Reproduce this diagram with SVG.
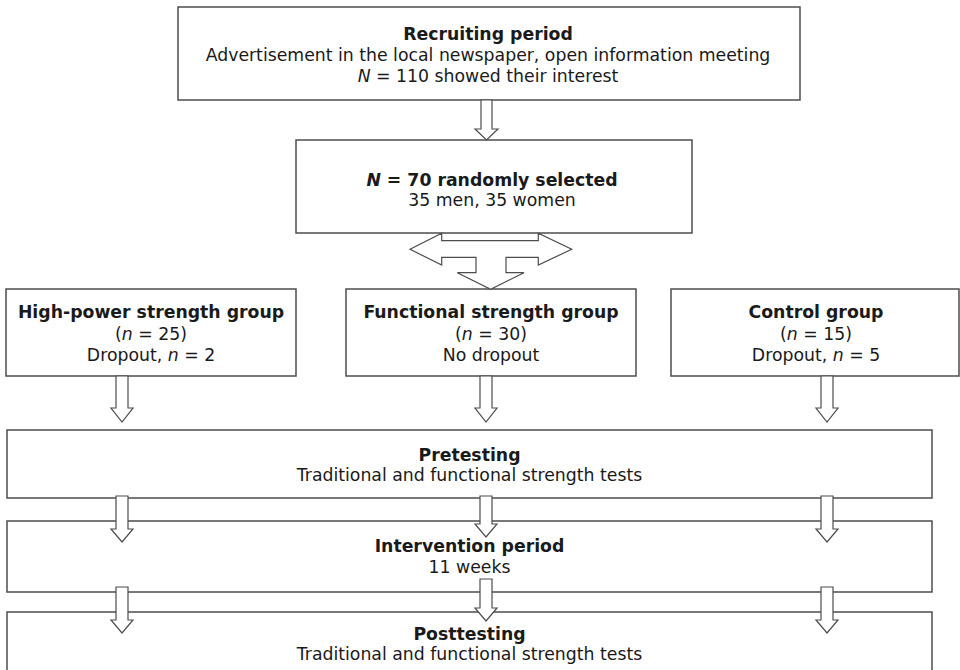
<svg xmlns="http://www.w3.org/2000/svg" width="960" height="670" viewBox="0 0 960 670">
<style>
.box{fill:#fff;stroke:#4d4d4d;stroke-width:1.5}
.arr{fill:#fff;stroke:#4d4d4d;stroke-width:1.2;stroke-linejoin:miter}
text{font-family:"DejaVu Sans",Verdana,sans-serif;font-size:17.3px;fill:#1a1a1a;text-anchor:middle}
.b{font-weight:bold}
.i{font-style:italic}
</style>
<rect width="960" height="670" fill="#fff"/>
<g id="recruiting">
<rect class="box" x="178" y="7" width="622" height="93"/>
<text x="488" y="40" class="b">Recruiting period</text>
<text x="488" y="61">Advertisement in the local newspaper, open information meeting</text>
<text x="488" y="82"><tspan class="i">N</tspan> = 110 showed their interest</text>
</g>
<g id="selected">
<rect class="box" x="296" y="140" width="396" height="93"/>
<text x="492" y="186" class="b"><tspan class="i">N</tspan> = 70 randomly selected</text>
<text x="492" y="206">35 men, 35 women</text>
</g>
<g id="highpower">
<rect class="box" x="6" y="289" width="290" height="87"/>
<text x="151" y="318" class="b">High-power strength group</text>
<text x="151" y="340">(<tspan class="i">n</tspan> = 25)</text>
<text x="151" y="361">Dropout, <tspan class="i">n</tspan> = 2</text>
</g>
<g id="functional">
<rect class="box" x="346" y="289" width="290" height="87"/>
<text x="491" y="318" class="b">Functional strength group</text>
<text x="491" y="340">(<tspan class="i">n</tspan> = 30)</text>
<text x="491" y="361">No dropout</text>
</g>
<g id="control">
<rect class="box" x="671" y="289" width="288" height="87"/>
<text x="816" y="318" class="b">Control group</text>
<text x="816" y="340">(<tspan class="i">n</tspan> = 15)</text>
<text x="816" y="361">Dropout, <tspan class="i">n</tspan> = 5</text>
</g>
<g id="pretesting">
<rect class="box" x="7" y="430" width="925" height="68"/>
<text x="469.5" y="461" class="b">Pretesting</text>
<text x="469.5" y="481">Traditional and functional strength tests</text>
</g>
<g id="intervention">
<rect class="box" x="7" y="521" width="925" height="71"/>
<text x="469.5" y="552" class="b">Intervention period</text>
<text x="469.5" y="573">11 weeks</text>
</g>
<g id="posttesting">
<rect class="box" x="7" y="612" width="925" height="70"/>
<text x="469.5" y="640" class="b">Posttesting</text>
<text x="469.5" y="660">Traditional and functional strength tests</text>
</g>
<g id="connectors">
<path class="arr" d="M481,100 L492,100 L492,129 L498,129 L486.5,140 L475,129 L481,129 Z"/>
<path class="arr" d="M410,249.3 L441.7,233.3 L441.7,240.7 L538.3,240.7 L538.3,233.3 L571.7,249.3 L538.3,265 L538.3,257.3 L506,257.3 L506,272.7 L524,272.7 L490.7,289.3 L457.3,272.7 L476,272.7 L476,257.3 L441.7,257.3 L441.7,265 Z"/>
<path class="arr" d="M116,376 L128,376 L128,408 L133,408 L122,422 L111,408 L116,408 Z"/>
<path class="arr" d="M480,376 L492,376 L492,408 L497,408 L486,422 L475,408 L480,408 Z"/>
<path class="arr" d="M821,376 L833,376 L833,408 L838,408 L827,422 L816,408 L821,408 Z"/>
<path class="arr" d="M116,496 L128,496 L128,529 L133,529 L122,542 L111,529 L116,529 Z"/>
<path class="arr" d="M480,496 L492,496 L492,524 L497,524 L486,537 L475,524 L480,524 Z"/>
<path class="arr" d="M821,496 L833,496 L833,529 L838,529 L827,542 L816,529 L821,529 Z"/>
<path class="arr" d="M116,587 L128,587 L128,620 L133,620 L122,633 L111,620 L116,620 Z"/>
<path class="arr" d="M480,579 L492,579 L492,608 L497,608 L486,621 L475,608 L480,608 Z"/>
<path class="arr" d="M821,587 L833,587 L833,620 L838,620 L827,633 L816,620 L821,620 Z"/>
</g>
</svg>
